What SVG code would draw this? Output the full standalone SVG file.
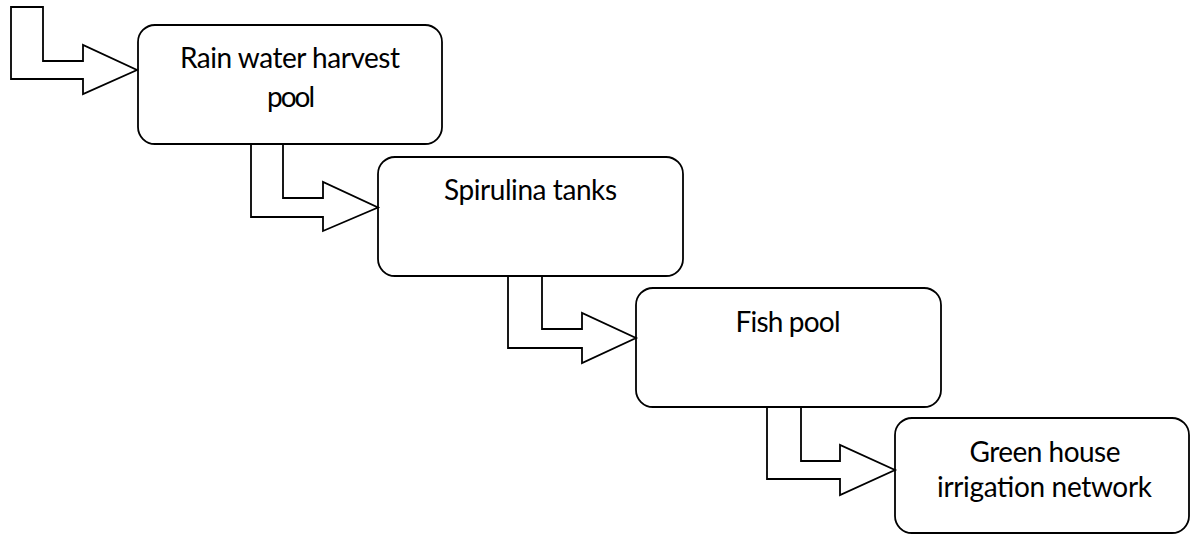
<svg xmlns="http://www.w3.org/2000/svg" width="1191" height="535" viewBox="0 0 1191 535">
<style>
.box{fill:#fff;stroke:#000;stroke-width:1.8}
.arr{fill:#fff;stroke:#000;stroke-width:1.8;stroke-linejoin:miter}
.t{font-family:Lato,"Liberation Sans",sans-serif;font-size:28px;fill:#000;text-anchor:middle}
</style>
<rect width="1191" height="535" fill="#fff"/>
<g id="node-rain">
<rect class="box" x="138" y="25" width="304" height="119" rx="17" ry="17"/>
<text class="t" x="290" y="68" textLength="220">Rain water harvest</text>
<text class="t" x="291" y="107" textLength="48">pool</text>
</g>
<g id="node-spirulina">
<rect class="box" x="378" y="157" width="305" height="119" rx="17" ry="17"/>
<text class="t" x="530.5" y="200" textLength="173">Spirulina tanks</text>
</g>
<g id="node-fish">
<rect class="box" x="636" y="288" width="305" height="119" rx="17" ry="17"/>
<text class="t" x="788" y="332" textLength="105">Fish pool</text>
</g>
<g id="node-greenhouse">
<rect class="box" x="895" y="418" width="294" height="115" rx="17" ry="17"/>
<text class="t" x="1045" y="462" textLength="151">Green house</text>
<text class="t" x="1044.5" y="497" textLength="215">irrigation network</text>
</g>
<g id="connectors">
<polygon class="arr" points="11,7 43,7 43,61 83,61 83,45 137,70 83,94 83,79 11,79"/>
<polygon class="arr" points="251,144 283,144 283,198 323,198 323,182 378,207.5 323,231 323,217 251,217"/>
<polygon class="arr" points="508,276 542,276 542,329 582,329 582,313 636,338 582,363 582,348 508,348"/>
<polygon class="arr" points="767,407 801,407 801,461 840,461 840,445 895,470 840,495 840,479 767,479"/>
</g>
</svg>
